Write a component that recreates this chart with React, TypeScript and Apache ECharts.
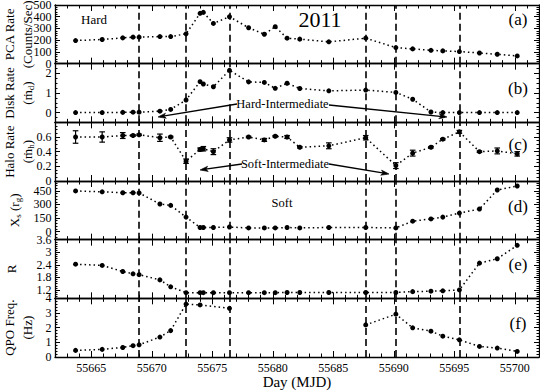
import React, { useEffect, useRef } from "react";
import * as echarts from "echarts";

// ---- data ----
const days = [
  55663.7, 55665.9, 55667.6, 55668.45, 55668.95, 55670.67, 55671.56, 55672.83, 55673.99,
  55674.26, 55675.09, 55676.42, 55678.0, 55679.3, 55680.2, 55681.18, 55682.23, 55684.63,
  55687.68, 55690.17, 55691.56, 55693.07, 55694.05, 55695.42, 55697.08, 55698.55, 55700.2,
];
const pcaRate = [
  197, 206, 220, 226, 226, 231, 231, 254, 429, 437, 343, 400, 306, 251, 315, 217, 209, 186,
  217, 137, 126, 114, 109, 103, 91, 80, 66,
];
const diskRate = [
  0, 0, 0.01, 0.02, 0.02, 0.07, 0.16, 0.64, 1.58, 1.46, 1.32, 2.16, 1.57, 1.54, 1.24, 1.5,
  1.23, 1.11, 1.15, 1.03, 0.68, 0.03, 0, 0, 0, 0, 0,
];
const haloRate = [
  0.6, 0.6, 0.62, 0.62, 0.63, 0.59, 0.6, 0.27, 0.43, 0.44, 0.4, 0.56, 0.6, 0.56, 0.61, 0.6,
  0.46, 0.48, 0.59, 0.21, 0.38, 0.46, 0.57, 0.67, 0.4, 0.41, 0.37,
];
const haloErr = [
  0.085, 0.07, 0.04, 0.01, 0.01, 0.05, 0.01, 0.03, 0.02, 0.03, 0.04, 0.03, 0.01, 0.02, 0.01,
  0.02, 0.01, 0.04, 0.03, 0.04, 0.04, 0.01, 0.01, 0.02, 0.01, 0.04, 0.03,
];
const shockLocation = [
  450, 440, 430, 430, 428, 305, 290, 160, 45, 45, 45, 50, 40, 40, 40, 45, 40, 45, 45, 40, 115,
  140, 160, 205, 250, 460, 505,
];
const compressionR = [
  2.43, 2.37, 2.08, 1.97, 1.93, 1.68, 1.35, 1.07, 1.07, 1.07, 1.07, 1.07, 1.07, 1.07, 1.07,
  1.08, 1.08, 1.08, 1.08, 1.08, 1.12, 1.14, 1.16, 1.2, 2.48, 2.69, 3.33,
];
const qpoDaysRise = [
  55663.7, 55665.9, 55667.6, 55668.45, 55668.95, 55670.67, 55671.56, 55672.83, 55673.99, 55676.42,
];
const qpoFreqRise = [0.45, 0.52, 0.65, 0.77, 0.83, 1.36, 1.8, 3.61, 3.55, 3.32];
const qpoDaysDecline = [
  55687.68, 55690.17, 55691.56, 55693.07, 55694.05, 55695.42, 55697.08, 55698.55, 55700.2,
];
const qpoFreqDecline = [2.19, 2.92, 1.99, 1.76, 1.42, 1.17, 0.72, 0.61, 0.38];
const transitionDays = [55668.95, 55672.83, 55676.42, 55687.68, 55690.17, 55695.42];

const xTicks = [55665, 55670, 55675, 55680, 55685, 55690, 55695, 55700];
const yTicksA = [0, 100, 200, 300, 400, 500];
const yTicksB = [0, 1, 2];
const yTicksC = [0, 0.2, 0.4, 0.6];
const yTicksD = [0, 150, 300, 450];
const yTicksE = [1.2, 1.8, 2.4, 3, 3.6];
const yTicksF = [0, 1, 2, 3, 4];
const panelLabels = ["(a)", "(b)", "(c)", "(d)", "(e)", "(f)"];

const FONT = "'Liberation Serif', 'Times New Roman', Times, serif";

const panels = [
  { min: 0, max: 500, ticks: yTicksA, minor: 20 },
  { min: -0.5, max: 2.5, ticks: yTicksB, minor: 0.25 },
  { min: 0, max: 0.8, ticks: yTicksC, minor: 0.05 },
  { min: -90, max: 560, ticks: yTicksD, minor: 30 },
  { min: 0.8, max: 3.6, ticks: yTicksE, minor: 0.1 },
  { min: 0, max: 4, ticks: yTicksF, minor: 0.2 },
];

const LEFT = 55;
const WIDTH = 484;
const TOP = 5;
const PH = 352 / 6;
const XMIN = 55662;
const XMAX = 55702;

function fmt(v: number) {
  return String(+Number(v).toFixed(2));
}

function arrow(x1: number, y1: number, x2: number, y2: number) {
  const dx = x2 - x1;
  const dy = y2 - y1;
  const len = Math.sqrt(dx * dx + dy * dy);
  const ux = dx / len;
  const uy = dy / len;
  const L = 8;
  const w = 2.6;
  const bx = x2 - ux * L;
  const by = y2 - uy * L;
  return [
    {
      type: "line",
      shape: { x1, y1, x2: x2 - ux * 2, y2: y2 - uy * 2 },
      style: { stroke: "#000", lineWidth: 1.3 },
      silent: true,
    },
    {
      type: "polygon",
      shape: {
        points: [
          [x2, y2],
          [bx - uy * w, by + ux * w],
          [bx + ux * 2, by + uy * 2],
          [bx + uy * w, by - ux * w],
        ],
      },
      style: { fill: "#000", stroke: "#000", lineWidth: 0.6 },
      silent: true,
    },
  ];
}

function txt(x: number, y: number, text: string, fontSize: number, rotation = 0, rich?: any) {
  return {
    type: "text",
    x,
    y,
    rotation,
    silent: true,
    style: {
      text,
      fontSize,
      fontFamily: FONT,
      fill: "#000",
      align: "center",
      verticalAlign: "middle",
      textAlign: "center",
      textVerticalAlign: "middle",
      rich,
    },
  };
}

export default function App() {
  const ref = useRef<HTMLDivElement>(null);
  useEffect(() => {
    document.body.style.margin = "0";
    const chart = echarts.init(ref.current!, null, { renderer: "svg" });

    const grids: any[] = [];
    const xAxes: any[] = [];
    const yAxes: any[] = [];
    const lineW = { color: "#000", width: 1.3 };
    const tickW = { color: "#000", width: 1 };

    panels.forEach((p, i) => {
      const last = i === panels.length - 1;
      grids.push({ left: LEFT, width: WIDTH, top: TOP + i * PH, height: PH });
      const xb = {
        gridIndex: i,
        type: "value",
        min: XMIN,
        max: XMAX,
        splitLine: { show: false },
      };
      xAxes.push({
        ...xb,
        position: "bottom",
        axisLine: { show: true, onZero: false, lineStyle: lineW },
        axisTick: { show: true, inside: true, length: 6, customValues: xTicks, lineStyle: tickW },
        axisLabel: {
          show: last,
          customValues: xTicks,
          formatter: (v: number) => String(v),
          margin: 5,
          color: "#000",
          fontSize: 12,
          fontFamily: FONT,
        },
        name: last ? "Day (MJD)" : "",
        nameLocation: "middle",
        nameGap: 17,
        nameTextStyle: { color: "#000", fontSize: 15, fontFamily: FONT, verticalAlign: "top" },
      });
      xAxes.push({
        ...xb,
        position: "bottom",
        interval: 1,
        axisLine: { show: false, onZero: false },
        axisTick: { show: true, inside: true, length: 3.5, lineStyle: tickW },
        axisLabel: { show: false },
      });
      xAxes.push({
        ...xb,
        position: "top",
        axisLine: { show: true, onZero: false, lineStyle: lineW },
        axisTick: { show: true, inside: true, length: 6, customValues: xTicks, lineStyle: tickW },
        axisLabel: { show: false },
      });
      xAxes.push({
        ...xb,
        position: "top",
        interval: 1,
        axisLine: { show: false, onZero: false },
        axisTick: { show: true, inside: true, length: 3.5, lineStyle: tickW },
        axisLabel: { show: false },
      });

      const yb = {
        gridIndex: i,
        type: "value",
        min: p.min,
        max: p.max,
        splitLine: { show: false },
        axisLabel: { show: false },
      };
      yAxes.push({
        ...yb,
        position: "left",
        axisLine: { show: true, onZero: false, lineStyle: lineW },
        axisTick: { show: true, inside: true, length: 5, customValues: p.ticks, lineStyle: tickW },
      });
      yAxes.push({
        ...yb,
        position: "left",
        interval: p.minor,
        axisLine: { show: false, onZero: false },
        axisTick: { show: true, inside: true, length: 2.5, lineStyle: tickW },
      });
      yAxes.push({
        ...yb,
        position: "right",
        axisLine: { show: true, onZero: false, lineStyle: lineW },
        axisTick: { show: true, inside: true, length: 5, customValues: p.ticks, lineStyle: tickW },
      });
      yAxes.push({
        ...yb,
        position: "right",
        interval: p.minor,
        axisLine: { show: false, onZero: false },
        axisTick: { show: true, inside: true, length: 2.5, lineStyle: tickW },
      });
    });

    const dotted = { color: "#000", width: 1.5, type: [1.5, 3] };
    const markLine = {
      silent: true,
      symbol: ["none", "none"],
      label: { show: false },
      lineStyle: { color: "#000", width: 1.6, type: [7, 4] },
      data: transitionDays.map((d) => ({ xAxis: d })),
    };
    const lineSeries = (i: number, data: any[], withMark: boolean) => ({
      type: "line",
      xAxisIndex: i * 4,
      yAxisIndex: i * 4,
      data,
      symbol: "circle",
      symbolSize: 5,
      itemStyle: { color: "#000" },
      lineStyle: dotted,
      connectNulls: false,
      markLine: withMark ? markLine : undefined,
      z: 3,
    });

    const allSeries = [pcaRate, diskRate, haloRate, shockLocation, compressionR];
    const series: any[] = allSeries.map((arr, i) =>
      lineSeries(i, days.map((d, j) => [d, arr[j]]), true)
    );
    series.push(lineSeries(5, qpoDaysRise.map((d, j) => [d, qpoFreqRise[j]]), true));
    series.push(lineSeries(5, qpoDaysDecline.map((d, j) => [d, qpoFreqDecline[j]]), false));
    series.push({
      type: "custom",
      xAxisIndex: 8,
      yAxisIndex: 8,
      data: days.map((d, j) => [d, haloRate[j], haloErr[j]]),
      encode: { x: 0, y: 1 },
      z: 4,
      renderItem: (params: any, api: any) => {
        const x = api.value(0);
        const y = api.value(1);
        const e = api.value(2);
        const t = api.coord([x, y + e]);
        const b = api.coord([x, y - e]);
        const w = 2.8;
        const st = { stroke: "#000", lineWidth: 1.2 };
        return {
          type: "group",
          children: [
            { type: "line", shape: { x1: t[0], y1: t[1], x2: b[0], y2: b[1] }, style: st },
            { type: "line", shape: { x1: t[0] - w, y1: t[1], x2: t[0] + w, y2: t[1] }, style: st },
            { type: "line", shape: { x1: b[0] - w, y1: b[1], x2: b[0] + w, y2: b[1] }, style: st },
          ],
        };
      },
    });
    // y tick labels, placed through each panel's own y scale
    panels.forEach((p, i) => {
      series.push({
        type: "scatter",
        xAxisIndex: i * 4,
        yAxisIndex: i * 4,
        data: p.ticks.map((t) => [XMIN, t]),
        symbol: "circle",
        symbolSize: 1,
        itemStyle: { color: "rgba(0,0,0,0)" },
        clip: false,
        silent: true,
        z: 6,
        label: {
          show: true,
          position: "left",
          distance: 3,
          formatter: (q: any) => fmt(q.value[1]),
          color: "#000",
          opacity: 1,
          fontSize: 12,
          fontFamily: FONT,
        },
        labelLayout: { hideOverlap: false },
      });
    });

    const sub = {
      m: { fontSize: 13, fontFamily: FONT, lineHeight: 17, fill: "#000", color: "#000" },
      s: {
        fontSize: 9,
        fontFamily: FONT,
        lineHeight: 9,
        verticalAlign: "bottom",
        fill: "#000",
        color: "#000",
      },
    };
    const R90 = Math.PI / 2;
    const cy = (i: number) => TOP + i * PH + PH / 2;
    const graphics: any[] = [
      txt(94, 19, "Hard", 13),
      txt(320, 19, "2011", 22),
      txt(282.5, 104, "Hard-Intermediate", 12.5),
      txt(285, 164, "Soft-Intermediate", 12.5),
      txt(282, 203, "Soft", 12.5),
      ...panelLabels.map((l, i) =>
        txt(518, i === 0 ? 19 : TOP + i * PH + (i === 2 ? 22 : 25), l, 17)
      ),
      txt(9, cy(0), "PCA Rate", 13, R90),
      txt(27, cy(0), "(Counts/Sec)", 13, R90),
      txt(9, cy(1), "Disk Rate", 13, R90),
      txt(27, cy(1), "{m|(ṁ}{s|d}{m|)}", 13, R90, sub),
      txt(9, cy(2), "Halo Rate", 13, R90),
      txt(27, cy(2), "{m|(ṁ}{s|h}{m|)}", 13, R90, sub),
      txt(14, cy(3), "{m|X}{s|s}{m| (r}{s|g}{m|)}", 13, R90, sub),
      txt(11, cy(4), "R", 13, R90),
      txt(9, cy(5), "QPO Freq.", 13, R90),
      txt(27, cy(5), "(Hz)", 13, R90),
      ...arrow(237, 104, 158, 117),
      ...arrow(329, 105, 447, 117),
      ...arrow(242, 164, 200, 170),
      ...arrow(329, 164, 389, 174),
    ];

    chart.setOption({
      animation: false,
      backgroundColor: "#fff",
      textStyle: { fontFamily: FONT, color: "#000" },
      grid: grids,
      xAxis: xAxes,
      yAxis: yAxes,
      series,
      graphic: graphics,
    });
    return () => chart.dispose();
  }, []);
  return <div ref={ref} style={{ width: 540, height: 391 }} />;
}
